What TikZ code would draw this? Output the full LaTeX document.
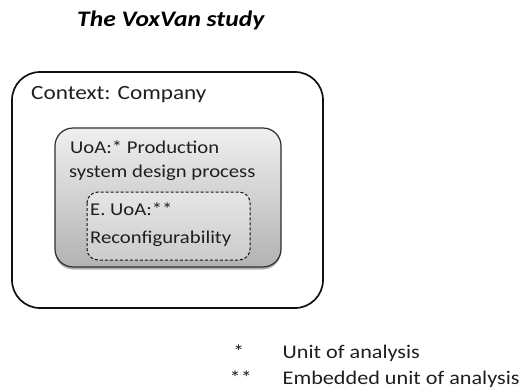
\documentclass[tikz,border=0pt]{standalone}
\usepackage{fontspec}
\setmainfont[FakeStretch=1.15]{Carlito}
\usetikzlibrary{shadows}
\definecolor{frame}{HTML}{111111}
\definecolor{unitedge}{HTML}{2E2E2E}
\begin{document}
\begin{tikzpicture}[x=1pt,y=-1pt,
  txt/.style={font=\fontsize{18}{22}\selectfont, inner sep=0pt, anchor=base west, text=black!88,
    text height=12pt, text depth=3pt},
  legend/.style={txt, font=\fontsize{19.3}{24}\selectfont, text height=13pt, text depth=3pt},
  outerbox/.style={draw=frame, line width=1.7pt, rounded corners=28pt},
  unitbox/.style={draw=unitedge, line width=1.2pt, rounded corners=18pt, top color=black!6, bottom color=black!30,
    drop shadow={shadow xshift=0pt, shadow yshift=-2.5pt, opacity=0.3, fill=black}},
  embbox/.style={draw=frame, line width=1pt, dashed, dash pattern=on 3pt off 2pt, rounded corners=11pt,
    top color=black!10, bottom color=black!20}]
\useasboundingbox (0,0) rectangle (525,389);
% heading
\node[font=\fontsize{22.2}{26}\selectfont\bfseries\itshape, inner sep=0pt, anchor=base west] (title) at (77,26) {The VoxVan study};
% context frame
\draw[outerbox] (12,72) rectangle (323,308);
\node[txt, font=\fontsize{20.2}{24}\selectfont] (ctx) at (31,99.5) {Context: Company};
% unit of analysis
\path[unitbox] (55,128) rectangle (281,267);
\node[txt] (uoa1) at (70,153.5) {UoA:* Production};
\node[txt] (uoa2) at (69,177) {system design process};
% embedded unit of analysis
\draw[embbox] (87,192) rectangle (250,260);
\node[txt] (emb1) at (90,215) {E. UoA:**};
\node[txt] (emb2) at (90,243) {Reconfigurability};
% key to the asterisks
\node[legend] (s1) at (233,358) {*};
\node[legend] (l1) at (282.5,358) {Unit of analysis};
\node[legend] (s2) at (229.5,384) {**};
\node[legend] (l2) at (282.5,384) {Embedded unit of analysis};
\end{tikzpicture}
\end{document}
